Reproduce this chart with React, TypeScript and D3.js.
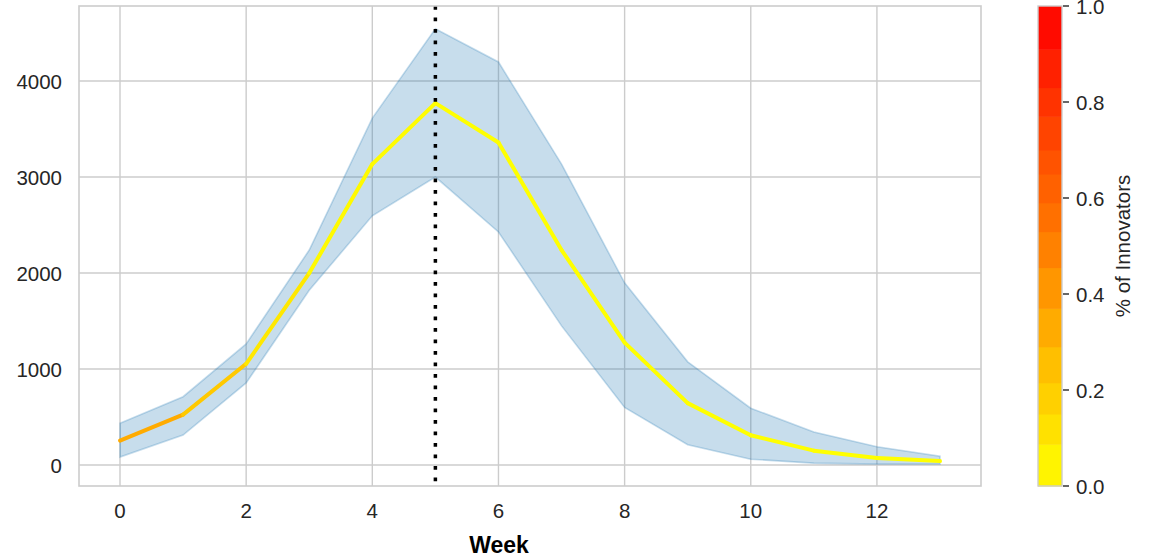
import * as d3 from "d3";

// weekly counts
const weeks = [0, 1, 2, 3, 4, 5, 6, 7, 8, 9, 10, 11, 12, 13];
const meanCounts = [255, 525, 1055, 2000, 3135, 3770, 3360, 2240, 1275, 645, 310, 150, 74, 42];
const upperCounts = [435, 712, 1262, 2240, 3614, 4545, 4199, 3135, 1898, 1075, 592, 344, 190, 92];
const lowerCounts = [84, 313, 855, 1820, 2597, 3000, 2428, 1450, 600, 212, 61, 20, 10, 10];
// share of innovators for each week (colours the segment starting there)
const innovatorShare = [0.33, 0.21, 0.09, 0.02, 0.01, 0, 0, 0, 0, 0, 0, 0, 0, 0];
const peakWeek = 5;

const xTicks = [0, 2, 4, 6, 8, 10, 12];
const yTicks = [0, 1000, 2000, 3000, 4000];
const cbTicks = [0, 0.2, 0.4, 0.6, 0.8, 1.0];
// discrete colour bands seen in the colour bar
const cbBounds = [0, 0.087, 0.15, 0.215, 0.29, 0.37, 0.455, 0.53, 0.59, 0.65, 0.7, 0.77, 0.83, 0.91, 1];

const W = 1152;
const H = 560;
const plot = {left: 79, right: 981, top: 6, bottom: 486};
const cb = {left: 1038, right: 1062};

const font = "'Liberation Sans', Arial, sans-serif";
const ink = "#262626";
const gridColor = "#cccccc";

// autumn_r: yellow -> red
const autumnR = (v: number) => d3.rgb(255, Math.round(255 * (1 - v)), 0).toString();

export default function App() {
    const x = d3.scaleLinear().domain([-0.65, 13.65]).range([plot.left, plot.right]);
    const y = d3.scaleLinear().domain([-218, 4782]).range([plot.bottom, plot.top]);
    const cbY = d3.scaleLinear().domain([0, 1]).range([plot.bottom, plot.top]);

    const band = d3
        .area<number>()
        .x((d) => x(weeks[d]))
        .y0((d) => y(lowerCounts[d]))
        .y1((d) => y(upperCounts[d]));
    const idx = weeks.map((_, i) => i);

    return (
        <div style={{position: "fixed", left: 0, top: 0}}>
            <svg width={W} height={H} style={{display: "block", background: "#fff"}} fontFamily={font}>
                {/* grid */}
                {xTicks.map((t) => (
                    <line key={"gx" + t} x1={x(t)} x2={x(t)} y1={plot.top} y2={plot.bottom}
                          stroke={gridColor} strokeWidth={1.4}/>
                ))}
                {yTicks.map((t) => (
                    <line key={"gy" + t} x1={plot.left} x2={plot.right} y1={y(t)} y2={y(t)}
                          stroke={gridColor} strokeWidth={1.4}/>
                ))}

                {/* uncertainty band */}
                <path d={band(idx) ?? ""} fill="rgba(31,119,180,0.25)"
                      stroke="rgba(31,119,180,0.25)" strokeWidth={1.6}/>

                {/* mean line, coloured by innovator share */}
                {weeks.slice(0, -1).map((w, i) => (
                    <line key={"seg" + i}
                          x1={x(w)} y1={y(meanCounts[i])}
                          x2={x(weeks[i + 1])} y2={y(meanCounts[i + 1])}
                          stroke={autumnR(innovatorShare[i])} strokeWidth={4}
                          strokeLinecap="round"/>
                ))}

                {/* peak marker */}
                <line x1={x(peakWeek)} x2={x(peakWeek)} y1={plot.top} y2={plot.bottom}
                      stroke="#000" strokeWidth={3.5} strokeDasharray="3.8 7.7"/>

                {/* frame */}
                <rect x={plot.left} y={plot.top} width={plot.right - plot.left} height={plot.bottom - plot.top}
                      fill="none" stroke={gridColor} strokeWidth={1.6}/>

                {/* tick labels */}
                {xTicks.map((t) => (
                    <text key={"tx" + t} x={x(t)} y={518} textAnchor="middle" fontSize={20.5} fill={ink}>{t}</text>
                ))}
                {yTicks.map((t) => (
                    <text key={"ty" + t} x={62} y={y(t) + 7.5} textAnchor="end" fontSize={20.5} fill={ink}>{t}</text>
                ))}
                <text x={499} y={553} textAnchor="middle" fontSize={23}
                      fontWeight="bold" fill="#000">Week</text>

                {/* colour bar */}
                {cbBounds.slice(0, -1).map((b, i) => (
                    <rect key={"cb" + i} x={cb.left} width={cb.right - cb.left}
                          y={cbY(cbBounds[i + 1])} height={cbY(b) - cbY(cbBounds[i + 1]) + 0.5}
                          fill={autumnR((b + cbBounds[i + 1]) / 2)}/>
                ))}
                <rect x={cb.left} y={plot.top} width={cb.right - cb.left} height={plot.bottom - plot.top}
                      fill="none" stroke={gridColor} strokeWidth={1.4}/>
                {cbTicks.map((t) => (
                    <g key={"cbt" + t}>
                        <line x1={cb.right + 1} x2={cb.right + 7} y1={cbY(t)} y2={cbY(t)} stroke={ink} strokeWidth={1.4}/>
                        <text x={1076} y={cbY(t) + 7.5} fontSize={20.5} fill={ink}>{t.toFixed(1)}</text>
                    </g>
                ))}
                <text transform={`translate(${1129.5},${(plot.top + plot.bottom) / 2}) rotate(-90)`}
                      textAnchor="middle" fontSize={20.5} fill={ink}>% of Innovators</text>
            </svg>
        </div>
    );
}
